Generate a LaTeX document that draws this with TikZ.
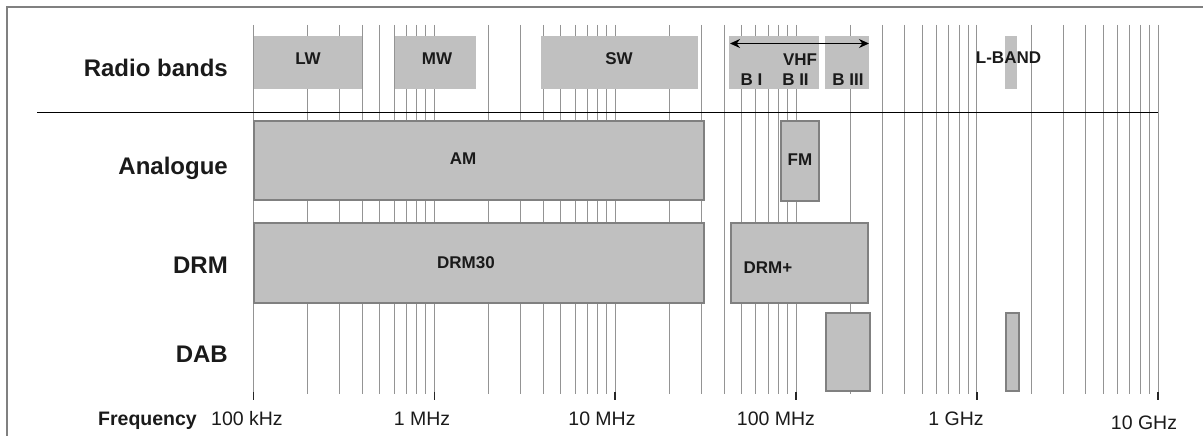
\documentclass[tikz,border=0pt]{standalone}
\usepackage{fontspec}
\setmainfont{Liberation Sans}
\usepackage{tikz}
\usetikzlibrary{arrows.meta}
\definecolor{bandgray}{HTML}{C0C0C0}
\definecolor{edgegray}{HTML}{808080}
\definecolor{gridgray}{HTML}{949494}
\definecolor{inkgray}{HTML}{1A1A1A}
\tikzset{
  band/.style={fill=bandgray},
  rowbox/.style={fill=bandgray, draw=edgegray, line width=1.3pt},
  gridline/.style={draw=gridgray, line width=0.9pt},
  dectick/.style={draw=black!85, line width=1.4pt},
  frame/.style={draw=edgegray, line width=1.6pt},
  rowlbl/.style={font=\fontsize{24}{28}\selectfont\bfseries, text=inkgray,
                 anchor=base east, inner sep=0pt},
  boxlbl/.style={font=\fontsize{17}{20}\selectfont\bfseries, text=inkgray,
                 anchor=base, inner sep=0pt},
  freqlbl/.style={font=\fontsize{19.5}{23}\selectfont, text=inkgray,
                  anchor=base, inner sep=0pt},
  arr/.style={{Stealth[length=10pt,width=9pt]}-{Stealth[length=10pt,width=9pt]},
              line width=1.4pt}
}

\begin{document}
\begin{tikzpicture}[x=1pt, y=-1pt]
  \useasboundingbox (0,0) rectangle (1203,436);
  \draw[frame] (7,437) -- (7,7) -- (1204,7);

  % log grid, 100 kHz .. 10 GHz
  \foreach \d in {0,...,4}
    \foreach \m in {1,...,9}
      \draw[gridline] ({253.3+180.9*(\d+log10(\m))},25) -- ++(0,369);
  \draw[gridline] (1158,25) -- ++(0,369);
  \foreach \d in {0,...,5}
    \draw[dectick] ({253.3+180.9*\d},392) -- ++(0,8);

  \draw[line width=1.6pt, black] (37,112.5) -- (1158,112.5);

  % radio bands
  \fill[band] (254,36) rectangle (362,89);
  \fill[band] (395,36) rectangle (476,89);
  \fill[band] (541,36) rectangle (698,89);
  \fill[band] (729,36) rectangle (782,89);
  \fill[band] (782,36) rectangle (819,89);
  \fill[band] (825,36) rectangle (869,89);
  \fill[band] (1005,36) rectangle (1017,89);
  \node[boxlbl] (lw) at (308,65) {LW};
  \node[boxlbl] (mw) at (437,65) {MW};
  \node[boxlbl] (sw) at (619,65) {SW};
  \node[boxlbl] (vhf) at (800,66) {VHF};
  \node[boxlbl] (b1) at (751.5,86) {B I};
  \node[boxlbl] (b2) at (795.5,86) {B II};
  \node[boxlbl] (b3) at (848,86) {B III};
  \node[boxlbl] (lband) at (1008.5,64) {L-BAND};
  \coordinate (vhfL) at (730,43.5);
  \coordinate (vhfR) at (869,43.5);
  \draw[arr] (vhfL) -- (vhfR);

  % systems
  \draw[rowbox] (254,121) rectangle (704,200);
  \draw[rowbox] (781,121) rectangle (819,201);
  \draw[rowbox] (254,223) rectangle (704,303);
  \draw[rowbox] (731,223) rectangle (868,303);
  \draw[rowbox] (826,313) rectangle (870,391);
  \draw[rowbox] (1006,313) rectangle (1019,391);
  \node[boxlbl] (am) at (463,164) {AM};
  \node[boxlbl] (fm) at (800,165) {FM};
  \node[boxlbl] (drm30) at (466,268) {DRM30};
  \node[boxlbl] (drmplus) at (768,273) {DRM+};

  % row titles
  \node[rowlbl] (radio) at (228,77) {Radio bands};
  \node[rowlbl] (analogue) at (228,174) {Analogue};
  \node[rowlbl] (drm) at (228,273) {DRM};
  \node[rowlbl] (dab) at (228,362) {DAB};

  % frequency axis
  \node[freqlbl, font=\fontsize{19.5}{23}\selectfont\bfseries, anchor=base east]
    (freq) at (197,425) {Frequency};
  \node[freqlbl] (f100k) at (247,425) {100 kHz};
  \node[freqlbl] (f1M) at (422,425) {1 MHz};
  \node[freqlbl] (f10M) at (602,425) {10 MHz};
  \node[freqlbl] (f100M) at (776,425) {100 MHz};
  \node[freqlbl] (f1G) at (956,425) {1 GHz};
  \node[freqlbl] (f10G) at (1144,429) {10 GHz};
\end{tikzpicture}
\end{document}
